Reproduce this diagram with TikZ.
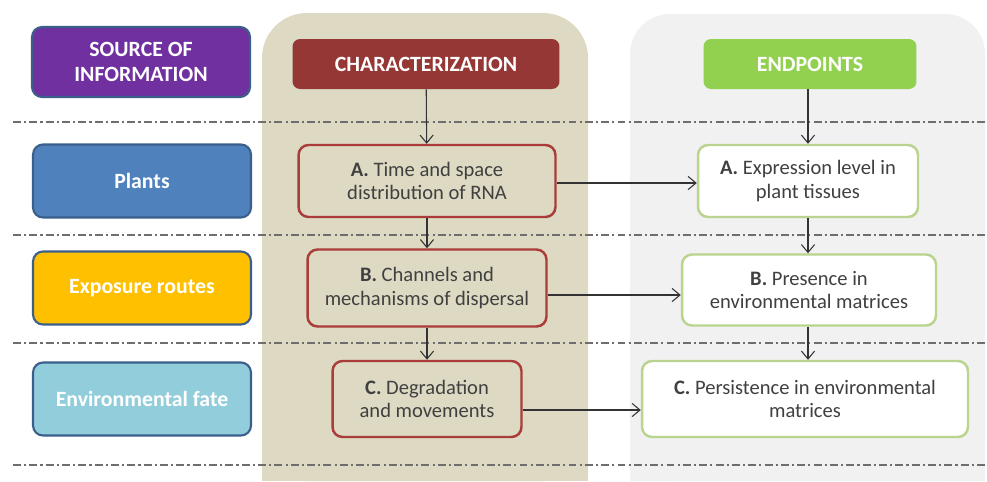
\documentclass[tikz,border=0pt]{standalone}
\usepackage{fontspec}
\setmainfont{Carlito}
\usepackage{tikz}
\usetikzlibrary{calc}
\usetikzlibrary{shapes,arrows,arrows.meta}

\definecolor{srcpurple}{HTML}{7030A0}
\definecolor{plantblue}{HTML}{4F81BD}
\definecolor{edgeblue}{HTML}{3A5F8B}
\definecolor{expoyellow}{HTML}{FFC000}
\definecolor{fatecyan}{HTML}{92CDDC}
\definecolor{charbg}{HTML}{DDD9C3}
\definecolor{endbg}{HTML}{F1F1F1}
\definecolor{charred}{HTML}{953735}
\definecolor{charedge}{HTML}{AA3C3A}
\definecolor{endgreen}{HTML}{92D050}
\definecolor{endedge}{HTML}{B9D48E}
\definecolor{txtgray}{HTML}{404040}
\definecolor{sepgray}{HTML}{6E6E6E}

\begin{document}
\begin{tikzpicture}[x=0.02cm,y=-0.02cm,
    leftbox/.style={rounded corners=0.2cm,draw=edgeblue,line width=1.2pt,text=white,font=\fontsize{12.4}{14.5}\selectfont\bfseries,align=center,minimum width=4.36cm,minimum height=1.46cm},
    headbox/.style={rounded corners=0.15cm,text=white,font=\fontsize{12.4}{14.5}\selectfont\bfseries,minimum height=1.0cm},
    charbox/.style={rounded corners=0.2cm,draw=charedge,line width=1.4pt,fill=charbg,text=txtgray,align=center,font=\fontsize{11.7}{13.2}\selectfont},
    endbox/.style={rounded corners=0.2cm,draw=endedge,line width=1.4pt,fill=white,text=txtgray,align=center,font=\fontsize{11.7}{13.2}\selectfont},
    sepline/.style={draw=sepgray,line width=1.1pt,dash pattern=on 4.5pt off 1.8pt on 1.2pt off 1.8pt},
    link/.style={-{Straight Barb[length=4.5pt,width=7.5pt]},draw=black!80,line width=0.6pt}]
    \useasboundingbox (0,0) rectangle (987,481);
    % column backgrounds
    \fill [color=charbg,rounded corners=0.9cm] (262,481)--(262,13)--(588,13)--(588,481)--cycle;
    \fill [color=endbg,rounded corners=0.8cm] (630,481)--(630,14)--(985,14)--(985,481)--cycle;
    \fill [color=charbg] (262,440) rectangle (588,481);
    \fill [color=endbg] (630,440) rectangle (985,481);
    % row separators
    \coordinate (SepL) at (13,0);
    \coordinate (SepR) at (985,0);
    \foreach \y in {122,235,343,465}
      \draw [sepline] ($(SepL)+(0,\y)$)--($(SepR)+(0,\y)$);
    % source of information
    \node[leftbox,fill=srcpurple,minimum height=1.40cm] (Source) at (141,62) {SOURCE OF\\INFORMATION};
    \node[leftbox,fill=plantblue] (Plants) at (142,181) {Plants};
    \node[leftbox,fill=expoyellow] (Exposure) at (142,288) {Exposure routes};
    \node[leftbox,fill=fatecyan] (Fate) at (142,399) {Environmental fate};
    % characterization
    \node[headbox,fill=charred,minimum width=5.34cm] (CharHead) at (426,64) {CHARACTERIZATION};
    \node[charbox,minimum width=5.14cm,minimum height=1.44cm] (CharA) at (427,181) {\textbf{A.} Time and space\\distribution of RNA};
    \node[charbox,minimum width=4.78cm,minimum height=1.54cm] (CharB) at (427,288) {\textbf{B.} Channels and\\mechanisms of dispersal};
    \node[charbox,minimum width=3.78cm,minimum height=1.52cm] (CharC) at (427,399) {\textbf{C.} Degradation\\and movements};
    % endpoints
    \node[headbox,fill=endgreen,minimum width=4.26cm] (EndHead) at (810,64) {ENDPOINTS};
    \node[endbox,minimum width=4.40cm,minimum height=1.44cm] (EndA) at (808,181) {\textbf{A.} Expression level in\\plant tissues};
    \node[endbox,minimum width=5.08cm,minimum height=1.42cm] (EndB) at (809,290) {\textbf{B.} Presence in\\environmental matrices};
    \node[endbox,minimum width=6.52cm,minimum height=1.52cm] (EndC) at (805,399) {\textbf{C.} Persistence in environmental\\matrices};
    % arrows
    \coordinate (OutA) at ($(CharA.east)+(0,2)$);
    \coordinate (OutB) at ($(CharB.east)+(0,7)$);
    \coordinate (OutC) at ($(CharC.east)+(0,11)$);
    \draw [link] (CharHead)--(CharA);
    \draw [link] (CharA)--(CharB);
    \draw [link] (CharB)--(CharC);
    \draw [link] (EndA.north |- EndHead.south)--(EndA.north);
    \draw [link] (EndA.south)--(EndA.south |- EndB.north);
    \draw [link] (EndA.south |- EndB.south)--(EndA.south |- EndC.north);
    \draw [link] (OutA)--(OutA -| EndA.west);
    \draw [link] (OutB)--(OutB -| EndB.west);
    \draw [link] (OutC)--(OutC -| EndC.west);
  \end{tikzpicture}
\end{document}
